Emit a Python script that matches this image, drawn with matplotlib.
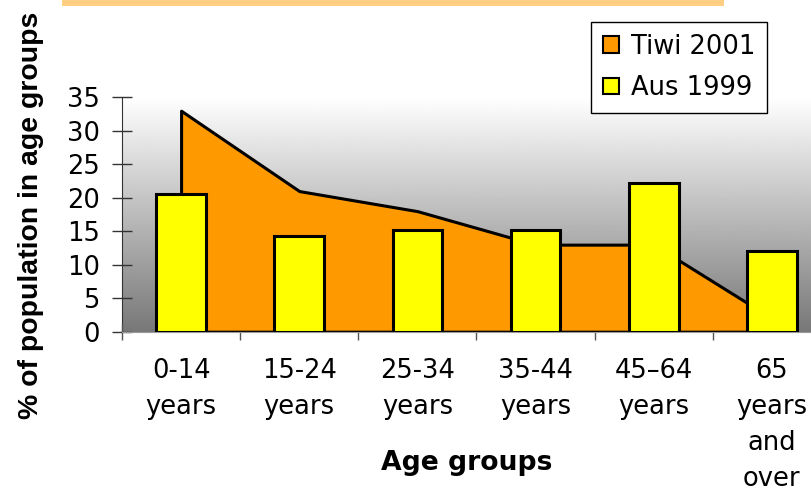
import numpy as np
import matplotlib.pyplot as plt
from matplotlib.patches import Patch, Rectangle

plt.rcParams['font.family'] = ['DejaVu Sans']

# data
categories = ['0-14\nyears', '15-24\nyears', '25-34\nyears', '35-44\nyears',
              '45\u201364\nyears', '65\nyears\nand\nover']
tiwi_2001 = [33, 21, 18, 13, 13, 2]
aus_1999 = [20.5, 14.3, 15.2, 15.2, 22.2, 12.0]
yticks = [0, 5, 10, 15, 20, 25, 30, 35]

W, H = 812, 491
fig = plt.figure(figsize=(W / 100, H / 100), dpi=100)

# axes spill past the right edge like the reference crop
left, right, top, bottom = 122, 831, 97.3, 331.7
ax = fig.add_axes([left / W, 1 - bottom / H, (right - left) / W, (bottom - top) / H])

x = np.arange(len(categories))
ax.set_xlim(-0.5, len(categories) - 0.5)
ax.set_ylim(0, 35)

# grey gradient backdrop
grad = np.linspace(0.47, 1.0, 256).reshape(-1, 1)
ax.imshow(grad, cmap='gray', vmin=0, vmax=1, origin='lower', aspect='auto',
          extent=[-0.5, len(categories) - 0.5, 0, 35], zorder=0)

ax.fill_between(x, 0, tiwi_2001, facecolor='#ff9900', edgecolor='black',
                linewidth=2.2, zorder=2)
ax.bar(x, aus_1999, width=0.42, color='#ffff00', edgecolor='black',
       linewidth=2.2, zorder=3)

for s in ['top', 'right']:
    ax.spines[s].set_visible(False)
ax.spines['left'].set_color('#333333')
ax.spines['bottom'].set_color('#999999')
ax.spines['left'].set_zorder(1)

ax.set_yticks(yticks)
ax.tick_params(axis='y', direction='inout', length=14, width=1, color='#333333',
               labelsize=18.5, pad=9)
ax.set_xticks(np.arange(-0.5, len(categories) - 0.4, 1.0))
ax.set_xticklabels([])
ax.set_xticks(x, minor=True)
ax.set_xticklabels(categories, minor=True, fontsize=18.5, linespacing=1.5)
ax.tick_params(axis='x', which='major', direction='inout', length=12, width=1,
               color='#555555')
ax.tick_params(axis='x', which='minor', length=0, pad=19)

fig.text(467 / W, 1 - 470 / H, 'Age groups', ha='center', va='baseline',
         fontsize=19.2, fontweight='bold')
fig.text(31 / W, 1 - 215.5 / H, '% of population in age groups', rotation=90,
         ha='center', va='center', fontsize=20.4, fontweight='bold',
         family='Liberation Sans')

# light orange strip at the top
fig.patches.append(Rectangle((62 / W, 1 - 6 / H), (724 - 62) / W, 6 / H,
                             transform=fig.transFigure, facecolor='#ffd083',
                             edgecolor='none'))

handles = [Patch(facecolor='#ff9900', edgecolor='black', linewidth=1.5),
           Patch(facecolor='#ffff00', edgecolor='black', linewidth=1.5)]
leg = fig.legend(handles, ['Tiwi 2001', 'Aus 1999'], loc='upper right',
                 bbox_to_anchor=(767 / W, 1 - 22 / H), borderaxespad=0,
                 fontsize=18.5, frameon=True, fancybox=False, framealpha=1,
                 edgecolor='black', handlelength=0.65, handleheight=0.6,
                 handletextpad=0.45, labelspacing=0.6, borderpad=0.45)
leg.get_frame().set_linewidth(1)

fig.savefig('out.png', dpi=100)
